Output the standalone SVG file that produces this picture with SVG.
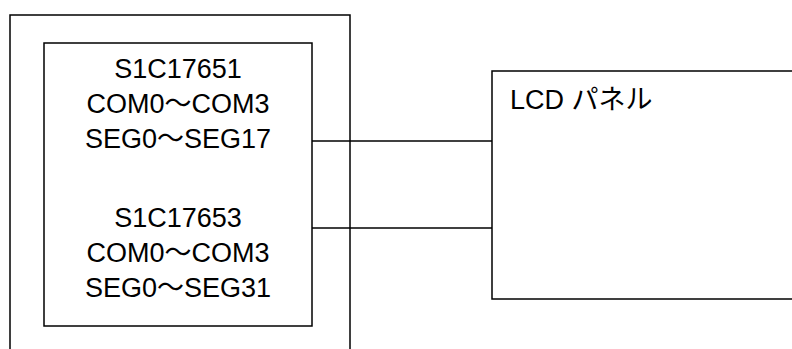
<svg xmlns="http://www.w3.org/2000/svg" width="792" height="349" viewBox="0 0 792 349">
<style>
.box{fill:#fff;stroke:#000;stroke-width:1.5}
.frame{fill:none;stroke:#000;stroke-width:1.5}
.t{font-family:"Liberation Sans","Noto Sans CJK JP",Arial,sans-serif;font-size:27px;fill:#000}
.c{text-anchor:middle}
.wire{stroke:#000;stroke-width:1.5;fill:none}
</style>
<rect width="792" height="349" fill="#fff"/>
<g id="outer">
<rect class="frame" x="10" y="15" width="340" height="350"/>
</g>
<g id="mcu">
<rect class="box" x="44" y="43" width="268" height="283"/>
<text class="t c" x="178" y="78">S1C17651</text>
<text class="t c" x="178" y="113">COM0～COM3</text>
<text class="t c" x="178" y="148">SEG0～SEG17</text>
<text class="t c" x="178" y="227">S1C17653</text>
<text class="t c" x="178" y="262">COM0～COM3</text>
<text class="t c" x="178" y="297">SEG0～SEG31</text>
</g>
<g id="lcd">
<rect class="box" x="492" y="71" width="320" height="228"/>
<text class="t" x="510" y="109">LCD パネル</text>
</g>
<g id="connectors">
<line class="wire" x1="312" y1="141" x2="492" y2="141"/>
<line class="wire" x1="312" y1="228" x2="492" y2="228"/>
</g>
</svg>
